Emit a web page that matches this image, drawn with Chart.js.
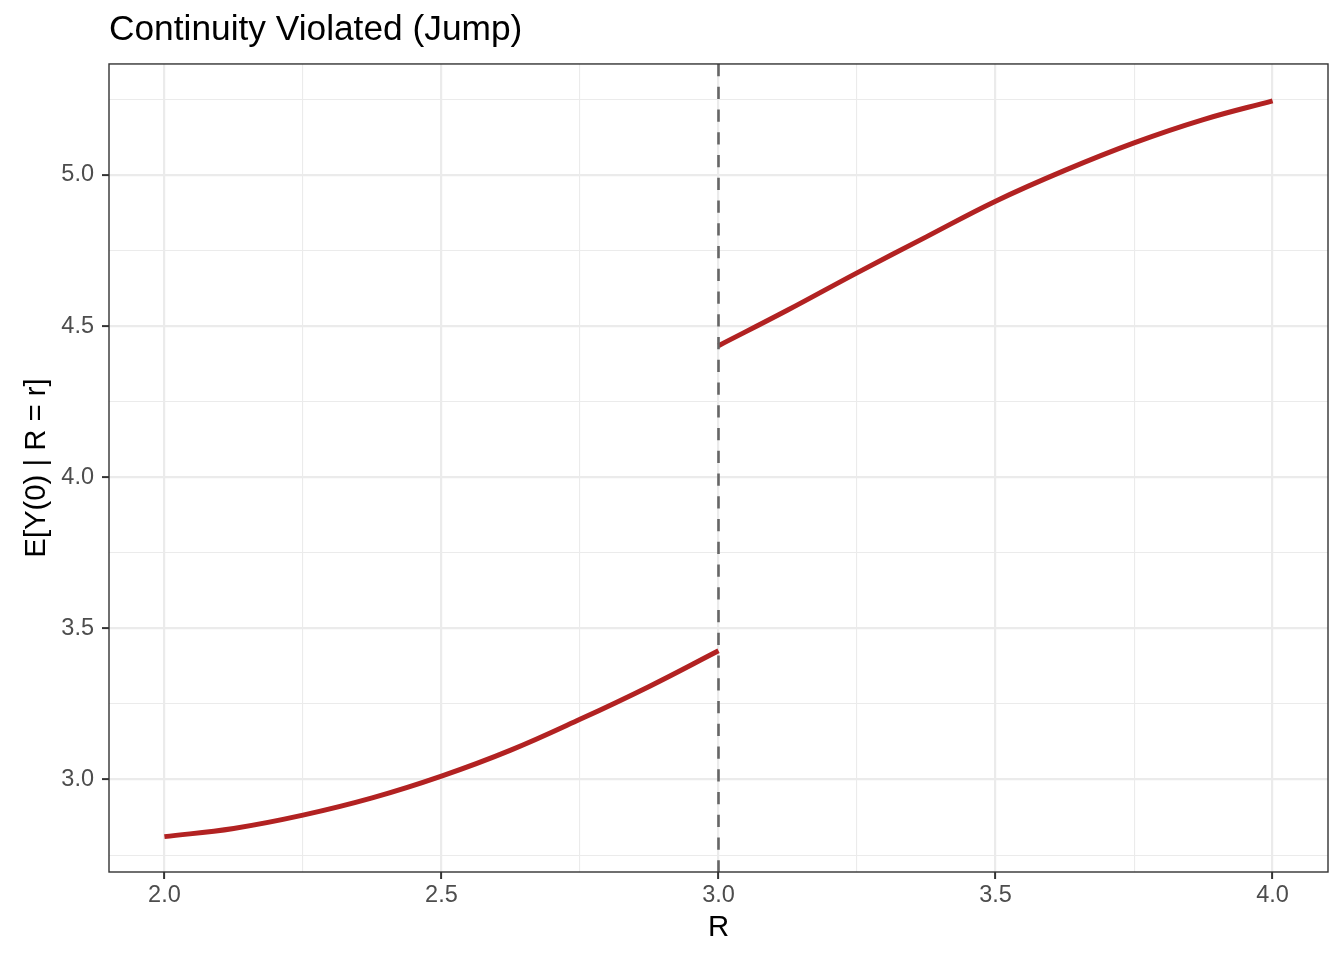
<!DOCTYPE html>
<html>
<head>
<meta charset="utf-8">
<script src="https://cdn.jsdelivr.net/npm/chart.js@4/dist/chart.umd.min.js"></script>
<style>
  html, body { margin: 0; padding: 0; background: #ffffff; }
  #wrap { width: 1344px; height: 960px; }
</style>
</head>
<body>
<div id="wrap"><canvas id="c" width="1344" height="960"></canvas></div>
<script>
// ---- data ----
const leftR  = [2.0, 2.125, 2.25, 2.375, 2.5, 2.625, 2.75, 2.875, 3.0];
const leftY  = [2.811, 2.838, 2.882, 2.939, 3.011, 3.097, 3.199, 3.308, 3.426];
const rightR = [3.0, 3.125, 3.25, 3.375, 3.5, 3.625, 3.75, 3.875, 4.0];
const rightY = [4.435, 4.553, 4.676, 4.795, 4.913, 5.015, 5.106, 5.183, 5.245];
const cutoff = [3.0];

// ---- axes / ticks ----
const xLimits = [1.9, 4.1];
const yLimits = [2.694, 5.367];
const xMajor = [2.0, 2.5, 3.0, 3.5, 4.0];
const xMinor = [2.25, 2.75, 3.25, 3.75];
const yMajor = [3.0, 3.5, 4.0, 4.5, 5.0];
const yMinor = [2.75, 3.25, 3.75, 4.25, 4.75, 5.25];
const titleText = 'Continuity Violated (Jump)';
const xTitle = 'R';
const yTitle = 'E[Y(0) | R = r]';

const toPts = (xs, ys) => xs.map((x, i) => ({x: x, y: ys[i]}));
const allTicks = (maj, min) => maj.concat(min).sort((a, b) => a - b);

Chart.defaults.font.family = "'Liberation Sans', Arial, sans-serif";

const gridStyle = (major) => ({
  color: (ctx) => '#EBEBEB',
  lineWidth: (ctx) => (ctx.tick && major.includes(ctx.tick.value)) ? 2.2 : 1.1,
  tickColor: (ctx) => (ctx.tick && major.includes(ctx.tick.value)) ? '#333333' : 'rgba(0,0,0,0)',
  tickWidth: 2,
  tickLength: 7,
  drawTicks: true,
  drawOnChartArea: true
});

const panelBorder = {
  id: 'panelBorder',
  afterDatasetsDraw(chart) {
    const a = chart.chartArea, ctx = chart.ctx;
    ctx.save();
    ctx.strokeStyle = '#333333';
    ctx.lineWidth = 1.4;
    ctx.strokeRect(a.left, a.top, a.right - a.left, a.bottom - a.top);
    ctx.restore();
  }
};

new Chart(document.getElementById('c'), {
  type: 'line',
  data: {
    datasets: [
      {
        label: 'left',
        data: toPts(leftR, leftY),
        borderColor: '#B22222',
        borderWidth: 5,
        borderCapStyle: 'butt',
        pointRadius: 0,
        tension: 0.4,
        order: 1
      },
      {
        label: 'right',
        data: toPts(rightR, rightY),
        borderColor: '#B22222',
        borderWidth: 5,
        borderCapStyle: 'butt',
        pointRadius: 0,
        tension: 0.4,
        order: 1
      },
      {
        label: 'cutoff',
        data: [{x: cutoff[0], y: yLimits[1]}, {x: cutoff[0], y: yLimits[0]}],
        borderColor: '#666666',
        borderWidth: 2.6,
        borderDash: [12.3, 10.45],
        borderCapStyle: 'butt',
        pointRadius: 0,
        tension: 0,
        order: 0
      }
    ]
  },
  options: {
    responsive: false,
    animation: false,
    devicePixelRatio: 1,
    layout: { padding: { left: 0, right: 16, top: 0, bottom: 0 } },
    plugins: {
      legend: { display: false },
      tooltip: { enabled: false },
      title: {
        display: true,
        text: titleText,
        align: 'start',
        fullSize: false,
        color: '#000000',
        font: { size: 35.3, weight: 'normal', lineHeight: 1.2 },
        padding: { top: 9, bottom: 12.6 }
      }
    },
    scales: {
      x: {
        type: 'linear',
        min: xLimits[0],
        max: xLimits[1],
        border: { display: false },
        afterFit: (s) => { s.height = 88; },
        afterBuildTicks: (s) => { s.ticks = allTicks(xMajor, xMinor).map(v => ({value: v})); },
        grid: gridStyle(xMajor),
        ticks: {
          autoSkip: false,
          maxRotation: 0,
          padding: 2.4,
          color: '#4D4D4D',
          font: { size: 23.5 },
          callback: (v) => xMajor.includes(v) ? v.toFixed(1) : ''
        },
        title: {
          display: true,
          text: xTitle,
          color: '#000000',
          font: { size: 29.3 },
          padding: { top: 0, bottom: 14.6 }
        }
      },
      y: {
        type: 'linear',
        min: yLimits[0],
        max: yLimits[1],
        border: { display: false },
        afterFit: (s) => { s.width = 109; },
        afterBuildTicks: (s) => { s.ticks = allTicks(yMajor, yMinor).map(v => ({value: v})); },
        grid: gridStyle(yMajor),
        ticks: {
          autoSkip: false,
          padding: 8,
          color: '#4D4D4D',
          font: { size: 23.5 },
          callback: (v) => yMajor.includes(v) ? v.toFixed(1) : ''
        },
        title: {
          display: true,
          text: yTitle,
          color: '#000000',
          font: { size: 29.3 },
          padding: { top: 19.6, bottom: 0 }
        }
      }
    }
  },
  plugins: [panelBorder]
});
</script>
</body>
</html>
